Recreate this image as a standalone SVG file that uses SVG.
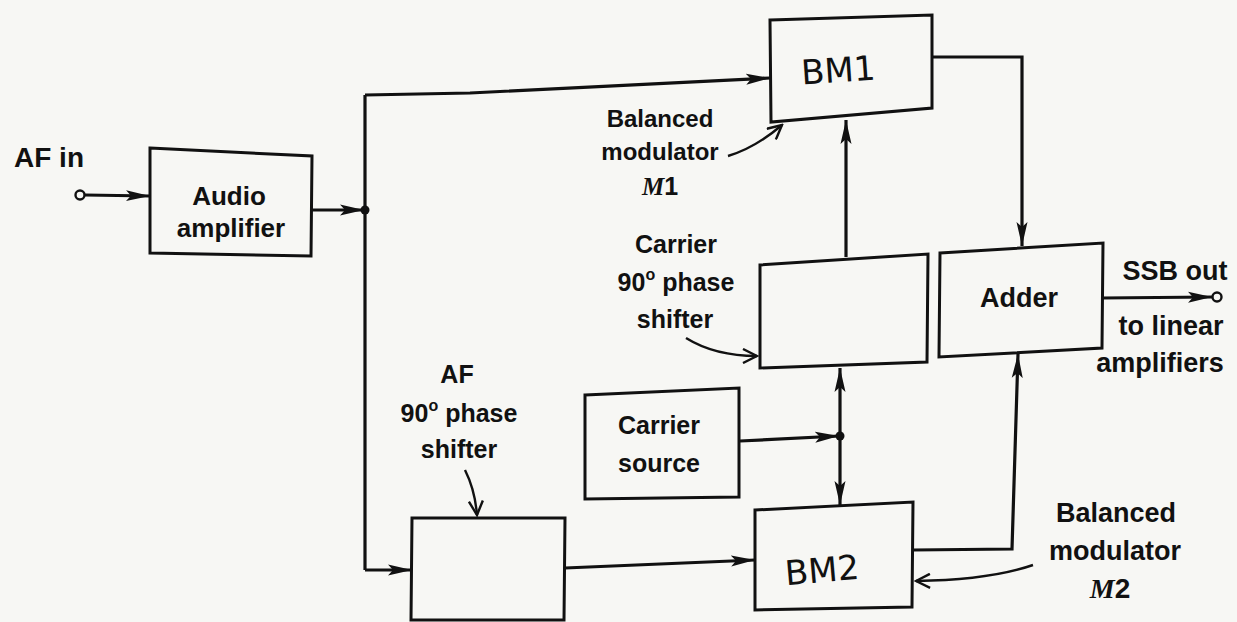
<svg xmlns="http://www.w3.org/2000/svg" width="1237" height="622" viewBox="0 0 1237 622">
<style>
.box{fill:none;stroke:#111;stroke-width:3}
.ln{fill:none;stroke:#111;stroke-width:3.2}
.ptr{fill:none;stroke:#111;stroke-width:2.4}
.t{font-family:"Liberation Sans",Arial,sans-serif;font-weight:bold;font-size:26px;fill:#111;text-anchor:middle}
.hw{font-family:"DejaVu Sans",sans-serif;font-size:34px;fill:#111;text-anchor:middle}
.m{font-family:"Liberation Serif","Times New Roman",serif;font-style:italic}
</style>
<defs>
<marker id="ah" markerUnits="userSpaceOnUse" markerWidth="26" markerHeight="14" refX="24" refY="7" orient="auto">
<path d="M0,1.5 L24,7 L0,12.5 L5,7 Z" fill="#111"/>
</marker>
<marker id="ap" markerUnits="userSpaceOnUse" markerWidth="18" markerHeight="16" refX="16" refY="8" orient="auto">
<path d="M2,1 L16,8 L2,15" fill="none" stroke="#111" stroke-width="2.4"/>
</marker>
</defs>
<rect width="1237" height="622" fill="#f7f7f4"/>

<g id="connectors">
<circle cx="80" cy="195" r="4.5" fill="#f7f7f4" stroke="#111" stroke-width="2.4"/>
<line class="ln" x1="85" y1="195" x2="150" y2="196" marker-end="url(#ah)"/>
<line class="ln" x1="312" y1="210" x2="364" y2="210" marker-end="url(#ah)"/>
<circle cx="365" cy="210" r="4.5" fill="#111"/>
<line class="ln" x1="365" y1="95" x2="365" y2="570"/>
<polyline class="ln" points="365,95 470,93 770,78" marker-end="url(#ah)"/>
<line class="ln" x1="365" y1="570" x2="412" y2="570" marker-end="url(#ah)"/>
<line class="ln" x1="565" y1="568" x2="755" y2="560" marker-end="url(#ah)"/>
<polyline class="ln" points="932,57 1022,57 1022,246" marker-end="url(#ah)"/>
<line class="ln" x1="846" y1="257" x2="846" y2="120" marker-end="url(#ah)"/>
<line class="ln" x1="740" y1="441" x2="839" y2="436" marker-end="url(#ah)"/>
<circle cx="840" cy="436" r="4.5" fill="#111"/>
<line class="ln" x1="840" y1="436" x2="840" y2="368" marker-end="url(#ah)"/>
<line class="ln" x1="840" y1="436" x2="840" y2="505" marker-end="url(#ah)"/>
<polyline class="ln" points="913,550 1012,549 1018,354" marker-end="url(#ah)"/>
<line class="ln" x1="1102" y1="298" x2="1212" y2="297" marker-end="url(#ah)"/>
<circle cx="1217" cy="297" r="4.5" fill="#f7f7f4" stroke="#111" stroke-width="2.4"/>
<path class="ptr" d="M728,156 Q755,148 782,125" marker-end="url(#ap)"/>
<path class="ptr" d="M686,338 Q715,356 757,356" marker-end="url(#ap)"/>
<path class="ptr" d="M465,470 Q475,490 477,515" marker-end="url(#ap)"/>
<path class="ptr" d="M1033,565 Q990,580 916,581" marker-end="url(#ap)"/>
</g>

<g id="af-in"><text class="t" x="49" y="167" style="font-size:28px">AF in</text></g>

<g id="audio-amp">
<polygon class="box" points="150,148 312,156 311,256 150,253"/>
<text class="t" x="229" y="205">Audio</text>
<text class="t" x="231" y="237">amplifier</text>
</g>

<g id="bm1">
<polygon class="box" points="770,20 932,15 932,108 771,122"/>
<text class="hw" x="838" y="82" transform="rotate(-4 838 68)">BM1</text>
</g>
<g id="bm1-label" style="font-size:24px">
<text class="t" x="660" y="127" style="font-size:24px">Balanced</text>
<text class="t" x="660" y="160" style="font-size:24px">modulator</text>
<text class="t" x="660" y="195" style="font-size:25px"><tspan class="m">M</tspan>1</text>
</g>

<g id="carrier-shifter">
<polygon class="box" points="760,265 928,254 927,362 760,368"/>
</g>
<g id="carrier-shifter-label">
<text class="t" x="676" y="253" style="font-size:25px">Carrier</text>
<text class="t" x="676" y="291" style="font-size:25px">90<tspan dy="-11" font-size="16">o</tspan><tspan dy="11"> phase</tspan></text>
<text class="t" x="675" y="328" style="font-size:25px">shifter</text>
</g>

<g id="adder">
<polygon class="box" points="940,253 1103,243 1102,348 939,357"/>
<text class="t" x="1019" y="307" style="font-size:27px">Adder</text>
</g>
<g id="ssb-label">
<text class="t" x="1175" y="280" style="font-size:27px">SSB out</text>
<text class="t" x="1171" y="335" style="font-size:27px">to linear</text>
<text class="t" x="1160" y="372" style="font-size:27px">amplifiers</text>
</g>

<g id="carrier-source">
<polygon class="box" points="585,395 739,388 739,497 585,499"/>
<text class="t" x="659" y="434" style="font-size:25px">Carrier</text>
<text class="t" x="659" y="472" style="font-size:25px">source</text>
</g>

<g id="af-shifter">
<polygon class="box" points="412,518 565,518 564,620 411,620"/>
</g>
<g id="af-shifter-label">
<text class="t" x="457" y="383" style="font-size:25px">AF</text>
<text class="t" x="459" y="422" style="font-size:25px">90<tspan dy="-11" font-size="16">o</tspan><tspan dy="11"> phase</tspan></text>
<text class="t" x="459" y="458" style="font-size:25px">shifter</text>
</g>

<g id="bm2">
<polygon class="box" points="755,510 913,502 912,607 755,610"/>
<text class="hw" x="822" y="582" transform="rotate(-5 822 570)">BM2</text>
</g>
<g id="bm2-label">
<text class="t" x="1116" y="522" style="font-size:27px">Balanced</text>
<text class="t" x="1115" y="560" style="font-size:27px">modulator</text>
<text class="t" x="1110" y="598" style="font-size:28px"><tspan class="m">M</tspan>2</text>
</g>
</svg>
